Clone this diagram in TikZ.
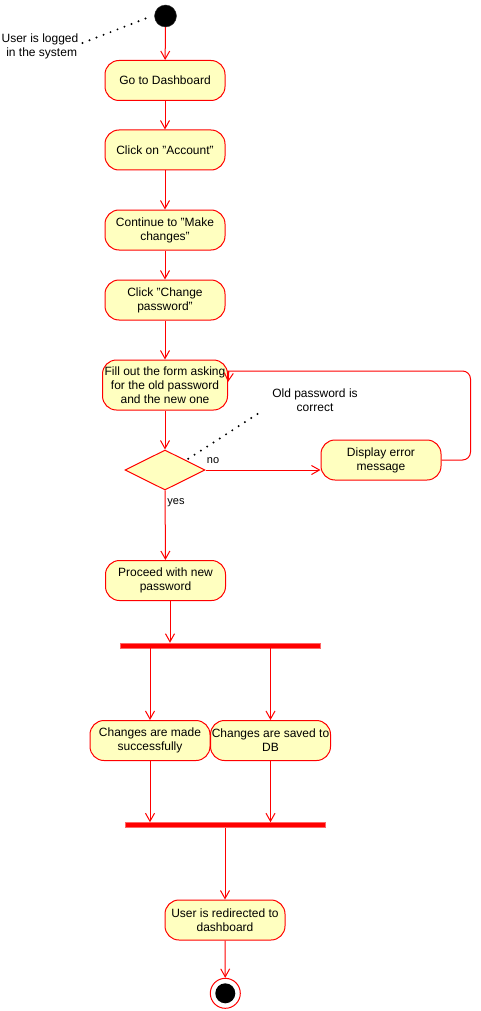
\documentclass[tikz,border=0pt]{standalone}
\usepackage{fontspec}
\setmainfont{Liberation Sans}
\usetikzlibrary{arrows.meta,shapes.geometric,calc}
\definecolor{actfill}{HTML}{FFFFC0}
\definecolor{actline}{HTML}{FF0000}
\begin{document}
\begin{tikzpicture}[x=1pt,y=-1pt,
  act/.style={draw=actline, fill=actfill, rounded corners=14pt, minimum width=120pt,
    minimum height=40pt, align=center, font=\fontsize{12}{14}\selectfont, inner sep=0pt, line width=1pt},
  flow/.style={draw=actline, line width=1pt, -{Straight Barb[length=8pt,width=9pt]}},
  lbl/.style={font=\fontsize{12}{14}\selectfont, align=center, inner sep=0pt},
  small/.style={font=\fontsize{11}{13}\selectfont, inner sep=0pt},
  dots/.style={draw=black, line width=2.2pt, line cap=round, dash pattern=on 0pt off 7.5pt},
  bar/.style={fill=red, draw=red!60, line width=0.5pt, minimum width=200pt, minimum height=5pt, inner sep=0pt}
]
\fill[white] (0,0) rectangle (481,1011);
\useasboundingbox (0,0) rectangle (481,1011);

\node[circle, fill=black, draw=black!80, minimum size=22pt, inner sep=0pt] (start) at (165.5,16) {};
\node[act] (dash) at (165,80.5) {Go to Dashboard};
\node[act] (acct) at (165,150) {Click on "Account"};
\node[act] (cont) at (165,230) {Continue to "Make\\changes"};
\node[act] (chg) at (165,300) {Click "Change\\password"};
\node[act, minimum width=125pt, minimum height=50pt] (fill) at (165,385) {Fill out the form asking\\for the old password\\and the new one};
\node[diamond, aspect=2, draw=actline, fill=actfill, line width=1pt, minimum width=80pt, minimum height=40pt, inner sep=0pt] (dec) at (165,470) {};
\node[act] (err) at (381,460) {Display error\\message};
\node[act] (proceed) at (165.5,580.5) {Proceed with new\\password};
\node[bar] (fork) at (220.5,645.5) {};
\node[act] (made) at (150,740.5) {Changes are made\\successfully};
\node[act] (saved) at (270.5,740.5) {Changes are saved to\\DB};
\node[bar] (join) at (225.5,825) {};
\node[act] (redir) at (225,920) {User is redirected to\\dashboard};
\node[circle, draw=actline, fill=white, line width=1pt, minimum size=30pt, inner sep=0pt] (end) at (225.3,993.3) {};
\node[circle, fill=black, minimum size=20pt, inner sep=0pt] (endin) at (end) {};

\node[lbl] (usernote) at (40,46) {User is logged\\ \ in the system};
\node[lbl] (oldnote) at (315,400) {Old password is\\correct};
\node[small] (nolbl) at (213,461) {no};
\node[small] (yeslbl) at (176,503) {yes};

\draw[dots] ($(usernote.east)+(4,-3)$) -- ($(start.west)+(-5,1)$);
\draw[dots] ($(dec.north east)+(3,-1)$) -- ($(oldnote.south west)+(-14,2)$);

\draw[flow] (start) -- (dash);
\draw[flow] (dash) -- (acct);
\draw[flow] (acct) -- (cont);
\draw[flow] (cont) -- (chg);
\draw[flow] (chg) -- (fill);
\draw[flow] (fill) -- (dec);
\draw[flow] (dec.east) -- (dec.east -| err.west);
\draw[flow, rounded corners=8pt] (err.east) -- ++(29,0) -- ++(0,-89) -- ($(fill.east)+(8,-14)$)
  .. controls ($(fill.east)+(1,-14)$) .. ($(fill.east)+(0,-3)$);
\draw[flow] (dec) -- (proceed);
\coordinate (p1) at ($(proceed.south)+(4.5,0)$);
\draw[flow] (p1) -- (p1 |- fork.north);
\draw[flow] (fork.south -| made.north) -- (made.north);
\draw[flow] (fork.south -| saved.north) -- (saved.north);
\draw[flow] (made.south) -- (made.south |- join.north);
\draw[flow] (saved.south) -- (saved.south |- join.north);
\draw[flow] (join.south -| redir.north) -- (redir.north);
\draw[flow] (redir) -- (end);
\end{tikzpicture}
\end{document}
